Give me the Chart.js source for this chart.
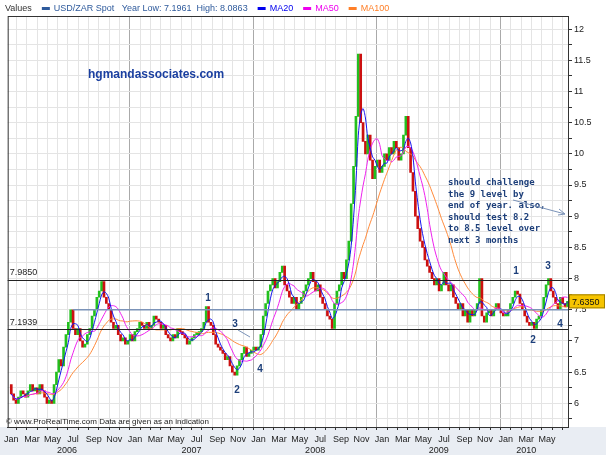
<!DOCTYPE html>
<html><head><meta charset="utf-8">
<script src="https://cdn.jsdelivr.net/npm/chart.js@4.4.0/dist/chart.umd.min.js"></script>
<style>html,body{margin:0;padding:0;background:#fff}#w{width:606px;height:455px}</style>
</head><body><div id="w"><canvas id="c"></canvas></div>
<script>
const monthNames = ["Jan","Feb","Mar","Apr","May","Jun","Jul","Aug","Sep","Oct","Nov","Dec"];
const years = ["2006","2007","2008","2009","2010"];
const yearLabelMonths = [5.4,17.5,29.5,41.5,50];
// weekly closes USD/ZAR from Jan 2006
const closes = [
6.15,6.05,6.0,6.1,6.2,6.15,6.1,6.2,6.3,6.2,6.25,6.15,6.3,
6.2,6.1,6.0,6.05,6.0,6.3,6.5,6.7,6.6,6.9,7.1,7.3,7.5,
7.2,7.1,7.2,7.0,6.9,6.95,7.1,7.2,7.4,7.5,7.7,7.8,7.95,
7.7,7.6,7.5,7.3,7.2,7.25,7.1,7.0,7.05,6.95,7.0,7.1,7.0,
7.15,7.2,7.3,7.25,7.2,7.3,7.2,7.25,7.4,7.35,7.3,7.2,7.25,
7.1,7.05,7.0,7.1,7.05,7.2,7.15,7.1,7.05,6.95,7.0,7.05,7.1,
7.1,7.15,7.2,7.3,7.55,7.3,7.25,7.1,6.95,6.9,6.85,6.8,6.7,
6.75,6.6,6.5,6.45,6.6,6.7,6.8,6.9,6.75,6.8,6.85,6.9,6.85,
6.9,7.1,7.4,7.6,7.8,7.9,8.0,7.85,7.95,8.1,8.2,7.9,7.8,
7.7,7.6,7.7,7.5,7.6,7.7,7.8,7.9,8.0,8.1,7.95,7.8,7.9,
7.7,7.6,7.5,7.4,7.35,7.2,7.6,7.8,7.9,8.1,8.0,8.3,8.6,
9.2,9.8,10.6,11.6,10.5,10.2,10.0,10.3,9.9,9.6,9.8,9.9,9.7,
9.8,10.0,9.9,10.1,10.0,10.2,10.1,9.9,10.0,10.3,10.6,10.1,9.7,
9.4,9.0,8.8,8.6,8.5,8.3,8.2,8.1,8.0,7.9,8.0,7.8,7.9,
8.1,7.9,7.8,7.9,7.7,7.6,7.5,7.6,7.4,7.5,7.3,7.5,7.4,
7.5,7.6,8.0,7.4,7.3,7.45,7.5,7.4,7.5,7.6,7.5,7.45,7.4,
7.4,7.5,7.6,7.7,7.8,7.75,7.6,7.5,7.4,7.3,7.25,7.3,7.2,7.35,7.4,7.5,7.7,7.9,8.0,7.8,7.7,7.6,7.5,7.7,7.6,7.55,7.635];
const levels = [7.985, 7.5, 7.1939];
const lastValue = "7.6350";

const toMonth = w => w*12/52;
const candles = closes.map((c,i)=>({x:toMonth(i), y:[i?closes[i-1]:6.3, c]}));
const colors = closes.map((c,i)=> c >= (i?closes[i-1]:6.3) ? "#22c01e" : "#cc1010");
function ma(n){return closes.map((c,i)=>{const s=closes.slice(Math.max(0,i-n+1),i+1);return {x:toMonth(i),y:s.reduce((a,b)=>a+b,0)/s.length};});}

const deco = {
 id:"deco",
 afterDatasetsDraw(ch){
  const {ctx, chartArea:a, scales:{x,y}} = ch;
  ctx.save();
  ctx.lineWidth=1.2;
  ctx.strokeStyle="#222"; [levels[0],levels[2]].forEach(v=>{const py=Math.round(y.getPixelForValue(v))+0.5;ctx.beginPath();ctx.moveTo(a.left,py);ctx.lineTo(a.right,py);ctx.stroke();});
  ctx.strokeStyle="#7b93b8"; ctx.lineWidth=1.5;
  let py=y.getPixelForValue(levels[1]); ctx.beginPath();ctx.moveTo(x.getPixelForValue(toMonth(26)),py);ctx.lineTo(a.right,py);ctx.stroke();
  ctx.font="9px 'Liberation Sans', Arial"; ctx.fillStyle="#222"; ctx.textBaseline="bottom";
  ctx.fillText("7.9850",a.left+2,y.getPixelForValue(levels[0])-2);
  ctx.fillText("7.1939",a.left+2,y.getPixelForValue(levels[2])-2);
  ctx.fillStyle="#1a3fa0"; ctx.font="bold 12px 'Liberation Sans', Arial"; ctx.textBaseline="middle";
  ctx.fillText("hgmandassociates.com",88,75);
  ctx.fillStyle="#1d3f7a"; ctx.font="bold 9px 'DejaVu Sans Mono', monospace";
  ["should challenge","the 9 level by","end of year. also,","should test 8.2","to 8.5 level over","next 3 months"].forEach((t,i)=>ctx.fillText(t,448,183+i*11.5));
  ctx.strokeStyle="#7b93b8"; ctx.lineWidth=1; ctx.beginPath(); ctx.moveTo(513,200); ctx.lineTo(565,214); ctx.stroke();
  ctx.beginPath(); ctx.moveTo(565,214); ctx.lineTo(559,209); ctx.moveTo(565,214); ctx.lineTo(558,215); ctx.stroke();
  ctx.fillStyle="#1d3f7a"; ctx.font="bold 10px 'Liberation Sans', Arial"; ctx.textAlign="center";
  [["1",208,298],["3",235,324],["2",237,390],["4",260,369],["1",516,271],["3",548,266],["2",533,340],["4",560,324]].forEach(l=>ctx.fillText(l[0],l[1],l[2]));
  ctx.strokeStyle="#7b93b8"; ctx.beginPath(); ctx.moveTo(238,330); ctx.lineTo(250,337); ctx.stroke();
  ctx.textAlign="left"; ctx.fillStyle="#222"; ctx.font="8px 'Liberation Sans', Arial";
  ctx.fillText("© www.ProRealTime.com Data are given as an indication",6,a.bottom-5);
  const ly=y.getPixelForValue(7.635);
  ctx.fillStyle="#f6c400"; ctx.fillRect(a.right+1,ly-7,36,14); ctx.strokeStyle="#a08000"; ctx.strokeRect(a.right+1.5,ly-6.5,35,13);
  ctx.fillStyle="#111"; ctx.font="9px 'Liberation Sans', Arial"; ctx.fillText(lastValue,a.right+4,ly+1);
  ctx.textAlign="center"; ctx.fillStyle="#222";
  yearLabelMonths.forEach((m,i)=>ctx.fillText(years[i],x.getPixelForValue(m),a.bottom+24));
  ctx.textAlign="left";
  ctx.font="9px 'Liberation Sans', Arial";
  let lx=5; const item=(sw,col,txt,tc)=>{ if(sw){ctx.fillStyle=col;ctx.fillRect(lx,7,8,3);lx+=12;} ctx.fillStyle=tc; ctx.fillText(txt,lx,9); lx+=ctx.measureText(txt).width+10; };
  item(false,"","Values","#333"); item(true,"#2e5a9c","USD/ZAR Spot   Year Low: 7.1961  High: 8.0863","#2e5a9c");
  item(true,"#0000ee","MA20","#0000ee"); item(true,"#ee00ee","MA50","#ee00ee"); item(true,"#ff7f27","MA100","#ff7f27");
  ctx.strokeStyle="#333"; ctx.lineWidth=1; ctx.strokeRect(a.left+0.5,a.top+0.5,a.right-a.left,a.bottom-a.top);
  ctx.restore();
 },
 beforeDraw(ch){const c=ch.ctx;c.save();c.fillStyle="#e9edf3";c.fillRect(0,ch.chartArea.bottom,ch.width,ch.height);c.fillStyle="#fff";c.fillRect(0,0,ch.width,ch.chartArea.bottom);c.restore();}
};

new Chart(document.getElementById("c"),{
 type:"bar",
 data:{datasets:[
  {type:"line",data:ma(4),borderColor:"#1515ee",borderWidth:1,pointRadius:0,tension:0.3,order:1},
  {type:"line",data:ma(10),borderColor:"#ee22ee",borderWidth:1,pointRadius:0,tension:0.3,order:2},
  {type:"line",data:ma(20),borderColor:"#ff8a3a",borderWidth:1,pointRadius:0,tension:0.3,order:3},
  {data:candles,backgroundColor:colors,barThickness:2,minBarLength:2,order:4}
 ]},
 options:{responsive:true,maintainAspectRatio:false,animation:false,
  layout:{padding:{left:4,top:16,right:0,bottom:0}},
  plugins:{legend:{display:false},tooltip:{enabled:false}},
  scales:{
   x:{type:"linear",min:-0.35,max:54.05,offset:false,
      afterBuildTicks(s){const t=[];for(let m=0;m<=53;m++)t.push({value:m});s.ticks=t;},
      ticks:{autoSkip:false,maxRotation:0,font:{size:9,family:"'Liberation Sans', Arial"},color:"#222",padding:4,
        callback:v=>v%2===0?monthNames[v%12]:""},
      grid:{color:c=>c.tick&&c.tick.value%12===0?"#aaa":"#e4e4e4",drawTicks:true,tickLength:3,tickColor:"#333"},border:{color:"#333"},
      afterFit(s){s.height=28;}},
   y:{position:"right",min:5.62,max:12.21,
      afterBuildTicks(s){const t=[];for(let v=5.75;v<=12.01;v+=0.25)t.push({value:Math.round(v*100)/100});s.ticks=t;},
      ticks:{font:{size:9,family:"'Liberation Sans', Arial"},color:"#222",padding:2,callback:v=>(Math.round(v*100)%50===0)?String(v):""},
      grid:{color:"#e4e4e4",tickLength:4,tickColor:"#333"},border:{color:"#333"},afterFit(s){s.width=38;}}
  }}
 ,plugins:[deco]});
</script></body></html>
